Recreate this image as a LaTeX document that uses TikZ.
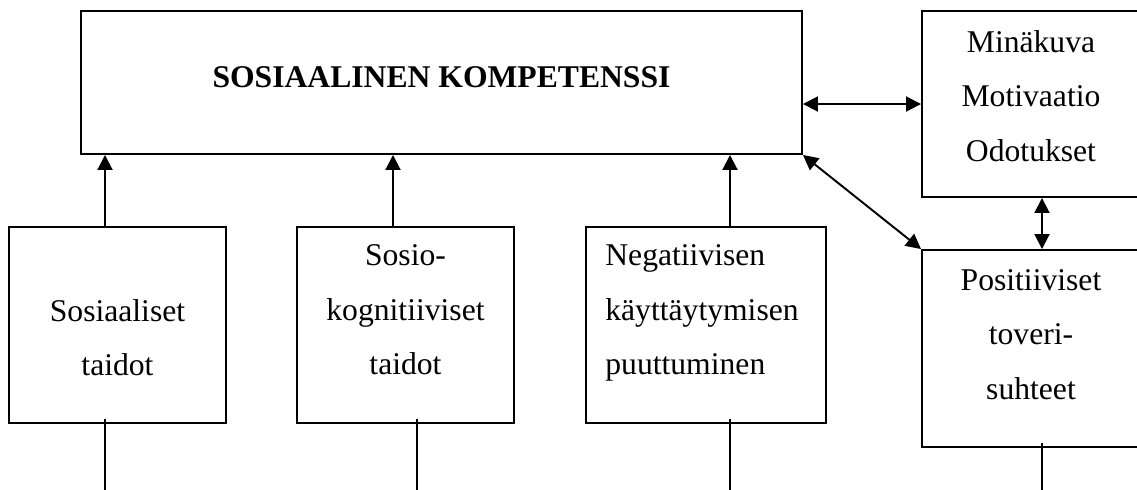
\documentclass[tikz,border=0pt]{standalone}
\usepackage{fontspec}
\setmainfont{Liberation Serif}
\usetikzlibrary{arrows.meta,positioning}

\begin{document}
\begin{tikzpicture}[
  box/.style={draw,line width=1.1pt,inner sep=0pt},
  txt/.style={inner sep=0pt,align=center,font=\fontsize{18}{31}\selectfont},
  arr/.style={line width=1.1pt,-{Triangle[length=0.3cm,width=0.3cm]}},
  dbl/.style={line width=1.1pt,{Triangle[length=0.3cm,width=0.3cm]}-{Triangle[length=0.3cm,width=0.3cm]}},
  lin/.style={line width=1.1pt}
]
  \useasboundingbox (0,0) rectangle (22.74,-9.78);
  \node[box,minimum width=14.42cm,minimum height=2.86cm] (komp) at (8.83,-1.65) {};
  \node[box,minimum width=4.36cm,minimum height=3.72cm] (mina) at (20.62,-2.08) {};
  \node[box,minimum width=4.36cm,minimum height=3.94cm] (pos) at (20.62,-6.97) {};
  \node[box,minimum width=4.34cm,minimum height=3.92cm] (sos) at (2.35,-6.5) {};
  \node[box,minimum width=4.34cm,minimum height=3.92cm] (kog) at (8.11,-6.5) {};
  \node[box,minimum width=4.8cm,minimum height=3.92cm] (neg) at (14.12,-6.5) {};

  \node[txt,font=\fontsize{18}{31}\selectfont\bfseries] (kompt) at ([yshift=0.1cm]komp.center) {SOSIAALINEN KOMPETENSSI};
  \node[txt,below=0.4cm of mina.north] (minat) {Minäkuva\\Motivaatio\\Odotukset};
  \node[txt,below=0.4cm of pos.north] (post) {Positiiviset\\toveri-\\suhteet};
  \node[txt,below=1.46cm of sos.north] (sost) {Sosiaaliset\\taidot};
  \node[txt,below=0.37cm of kog.north] (kogt) {Sosio-\\kognitiiviset\\taidot};
  \node[txt,align=left,below right=0.37cm and 0.4cm of neg.north west] (negt) {Negatiivisen\\käyttäytymisen\\puuttuminen};

  \coordinate (s1) at ([xshift=-0.25cm]sos.north);
  \coordinate (k1) at ([xshift=-0.25cm]kog.north);
  \coordinate (n1) at ([xshift=0.48cm]neg.north);
  \draw[arr] (s1) -- (s1 |- komp.south);
  \draw[arr] (k1) -- (k1 |- komp.south);
  \draw[arr] (n1) -- (n1 |- komp.south);

  \draw[dbl] (komp.east |- mina.west) -- (mina.west);
  \draw[dbl] (komp.south east) -- (pos.north west);
  \coordinate (m1) at ([xshift=0.22cm]mina.south);
  \draw[dbl] (m1) -- (m1 |- pos.north);

  \coordinate (s2) at ([xshift=-0.25cm,yshift=0.1cm]sos.south);
  \coordinate (k2) at ([xshift=0.23cm,yshift=0.1cm]kog.south);
  \coordinate (n2) at ([xshift=0.48cm,yshift=0.1cm]neg.south);
  \coordinate (p2) at ([xshift=0.22cm,yshift=0.1cm]pos.south);
  \draw[lin] (s2) -- ++(0,-1.5);
  \draw[lin] (k2) -- ++(0,-1.5);
  \draw[lin] (n2) -- ++(0,-1.5);
  \draw[lin] (p2) -- ++(0,-1.5);
\end{tikzpicture}
\end{document}
